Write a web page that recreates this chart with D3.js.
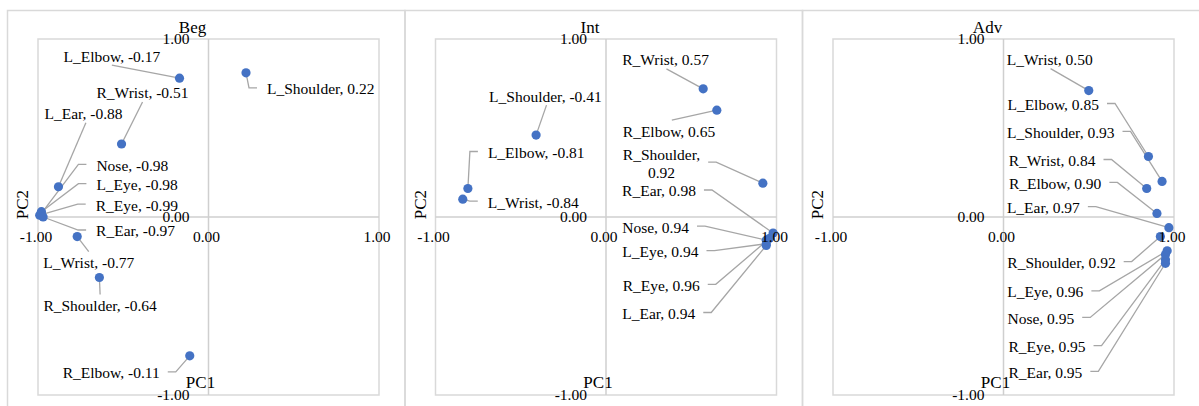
<!DOCTYPE html>
<html>
<head>
<meta charset="utf-8">
<script src="https://cdn.jsdelivr.net/npm/d3@7"></script>
<style>
  body { margin: 0; background: #fff; }
  svg { display: block; font-family: "Liberation Serif", "Times New Roman", serif; }
</style>
</head>
<body>
<svg id="chart" width="1199" height="406"></svg>
<script>
// --- data: PC1 / PC2 loadings ---
var titles = ["Beg", "Int", "Adv"];
var ticks = [-1, 0, 1];

var begNames = ["L_Elbow", "L_Shoulder", "R_Wrist", "L_Ear", "Nose", "L_Eye", "R_Eye", "R_Ear", "L_Wrist", "R_Shoulder", "R_Elbow"];
var begPC1 = [-0.17, 0.22, -0.51, -0.88, -0.98, -0.98, -0.99, -0.97, -0.77, -0.64, -0.11];
var begPC2 = [0.78, 0.81, 0.41, 0.17, 0.02, 0.03, 0.01, 0.00, -0.11, -0.34, -0.78];

var intNames = ["R_Wrist", "L_Shoulder", "R_Elbow", "L_Elbow", "R_Shoulder", "L_Wrist", "R_Ear", "Nose", "L_Eye", "R_Eye", "L_Ear"];
var intPC1 = [0.57, -0.41, 0.65, -0.81, 0.92, -0.84, 0.98, 0.94, 0.94, 0.96, 0.94];
var intPC2 = [0.72, 0.46, 0.60, 0.16, 0.19, 0.10, -0.09, -0.13, -0.15, -0.12, -0.16];

var advNames = ["L_Wrist", "L_Elbow", "L_Shoulder", "R_Wrist", "R_Elbow", "L_Ear", "R_Shoulder", "L_Eye", "Nose", "R_Eye", "R_Ear"];
var advPC1 = [0.50, 0.85, 0.93, 0.84, 0.90, 0.97, 0.92, 0.96, 0.95, 0.95, 0.95];
var advPC2 = [0.71, 0.34, 0.20, 0.16, 0.02, -0.06, -0.11, -0.19, -0.21, -0.24, -0.26];

// --- label placement (pixel offset of label from its point, leader side, leader pos) ---
var begLayout = [
  [-116, -22, "B", 0.5], [21, 16, "L"], [-25, -51, "B", 0.5], [-14, -73, "B", 0.53],
  [55, -48, "L"], [55, -27, "L"], [56, -10, "L"], [53, 14, "L"],
  [-34, 26, "T", 0.5], [-56, 28, "T", 0.5], [-127, 17, "R"]
];
var intLayout = [
  [-81, -29, "B", 0.51], [-47, -39, "B", 0.51], [-94, 21, "T", 0.53], [20, -36, "L"],
  [-140, -29, "R", 0, true], [25, 3, "L"], [-151, -42, "R"], [-144, -13, "R"],
  [-144, 8, "R"], [-147, 47, "R"], [-144, 68, "R"]
];
var advLayout = [
  [-82, -31, "B", 0.51], [-141, -52, "R"], [-155, -49, "R"], [-138, -28, "R"],
  [-148, -30, "R"], [-162, -20, "R"], [-153, 26, "R"], [-160, 41, "R"],
  [-158, 64, "R"], [-157, 87, "R"], [-157, 109, "R"]
];

var panels = [
  {names: begNames, pc1: begPC1, pc2: begPC2, layout: begLayout},
  {names: intNames, pc1: intPC1, pc2: intPC2, layout: intLayout},
  {names: advNames, pc1: advPC1, pc2: advPC2, layout: advLayout}
];

var svg = d3.select("#chart");
var step = 397.5, plotW = 341, plotTop = 39, plotBottom = 395;
var gridCol = "#d9d9d9", leadCol = "#a6a6a6", dotCol = "#4472c4", txtCol = "#000";
// excel writes a plain hyphen, not the unicode minus
var fmt = function(v) { return d3.format(".2f")(v).replace("\u2212", "-"); };

panels.forEach(function(p, i) {
  var left = 38 + i * step;
  var x = d3.scaleLinear().domain([-1, 1]).range([left, left + plotW]);
  var y = d3.scaleLinear().domain([-1, 1]).range([plotBottom, plotTop]);
  var g = svg.append("g");

  // chart frame
  g.append("rect")
    .attr("x", 7.5 + i * step).attr("y", 10.5)
    .attr("width", step).attr("height", 420)
    .attr("fill", "none").attr("stroke", gridCol).attr("stroke-width", 1.5);

  // plot area + zero axes
  g.append("rect")
    .attr("x", x(-1)).attr("y", y(1))
    .attr("width", x(1) - x(-1)).attr("height", y(-1) - y(1))
    .attr("fill", "none").attr("stroke", gridCol).attr("stroke-width", 1.5);
  g.append("line")
    .attr("x1", x(0)).attr("x2", x(0)).attr("y1", y(1)).attr("y2", y(-1))
    .attr("stroke", "#cfcfcf").attr("stroke-width", 1.5);
  g.append("line")
    .attr("x1", x(-1)).attr("x2", x(1)).attr("y1", y(0)).attr("y2", y(0))
    .attr("stroke", "#cfcfcf").attr("stroke-width", 1.5);

  var pts = p.names.map(function(n, k) {
    return {name: n, v1: p.pc1[k], v2: p.pc2[k], lay: p.layout[k]};
  });

  // labels first, so leader lines can use their widths
  g.selectAll(".lab").data(pts).enter().append("text")
    .attr("class", "lab")
    .attr("font-size", "15.5px").attr("fill", txtCol)
    .each(function(d) {
      var t = d3.select(this);
      var lx = x(d.v1) + d.lay[0], ly = y(d.v2) + d.lay[1];
      if (d.lay[4]) {
        t.append("tspan").attr("x", lx).attr("y", ly).attr("dy", "0.35em").text(d.name + ",");
        var w1 = this.getComputedTextLength();
        t.append("tspan").attr("x", lx + w1 / 2).attr("y", ly + 18).attr("dy", "0.35em")
          .attr("text-anchor", "middle").text(fmt(d.v1));
        d.box = {x: lx, y: ly + 9, w: w1};
      } else {
        t.attr("x", lx).attr("y", ly).attr("dy", "0.35em").text(d.name + ", " + fmt(d.v1));
        d.box = {x: lx, y: ly, w: this.getComputedTextLength()};
      }
    });

  g.selectAll(".lead").data(pts).enter().insert("polyline", ".lab")
    .attr("class", "lead")
    .attr("fill", "none").attr("stroke", leadCol).attr("stroke-width", 1.3)
    .attr("points", function(d) {
      var b = d.box, side = d.lay[2], px = x(d.v1), py = y(d.v2), s;
      if (side === "L") s = [[b.x - 10, b.y - 1], [b.x - 18, b.y - 1]];
      else if (side === "R") s = [[b.x + b.w + 8, b.y - 1], [b.x + b.w + 16, b.y - 1]];
      else if (side === "B") s = [[b.x + d.lay[3] * b.w, b.y + 9]];
      else s = [[b.x + d.lay[3] * b.w, b.y - 11]];
      s.push([px, py]);
      return s.map(function(q) { return q.join(","); }).join(" ");
    });

  g.selectAll(".dot").data(pts).enter().append("circle")
    .attr("class", "dot")
    .attr("cx", function(d) { return x(d.v1); })
    .attr("cy", function(d) { return y(d.v2); })
    .attr("r", 4.6).attr("fill", dotCol);

  // tick labels
  g.selectAll(".xt").data(ticks).enter().append("text")
    .attr("x", function(d) { return x(d) - 2; }).attr("y", y(0) + 25)
    .attr("text-anchor", "middle").attr("font-size", "15.5px").attr("fill", txtCol)
    .text(fmt);
  g.selectAll(".yt").data(ticks).enter().append("text")
    .attr("x", x(0) - 19).attr("y", function(d) { return y(d) + 5; })
    .attr("text-anchor", "end").attr("font-size", "15.5px").attr("fill", txtCol)
    .text(fmt);

  // titles
  g.append("text")
    .attr("x", x(0) - 16).attr("y", 33)
    .attr("text-anchor", "middle").attr("font-size", "17px").attr("fill", txtCol)
    .text(titles[i]);
  g.append("text")
    .attr("x", x(0) - 8).attr("y", 388)
    .attr("text-anchor", "middle").attr("font-size", "17px").attr("fill", txtCol)
    .text("PC1");
  g.append("text")
    .attr("transform", "translate(" + (left - 10) + "," + y(0.07) + ") rotate(-90)")
    .attr("text-anchor", "middle").attr("font-size", "17px").attr("fill", txtCol)
    .text("PC2");
});
</script>
</body>
</html>
